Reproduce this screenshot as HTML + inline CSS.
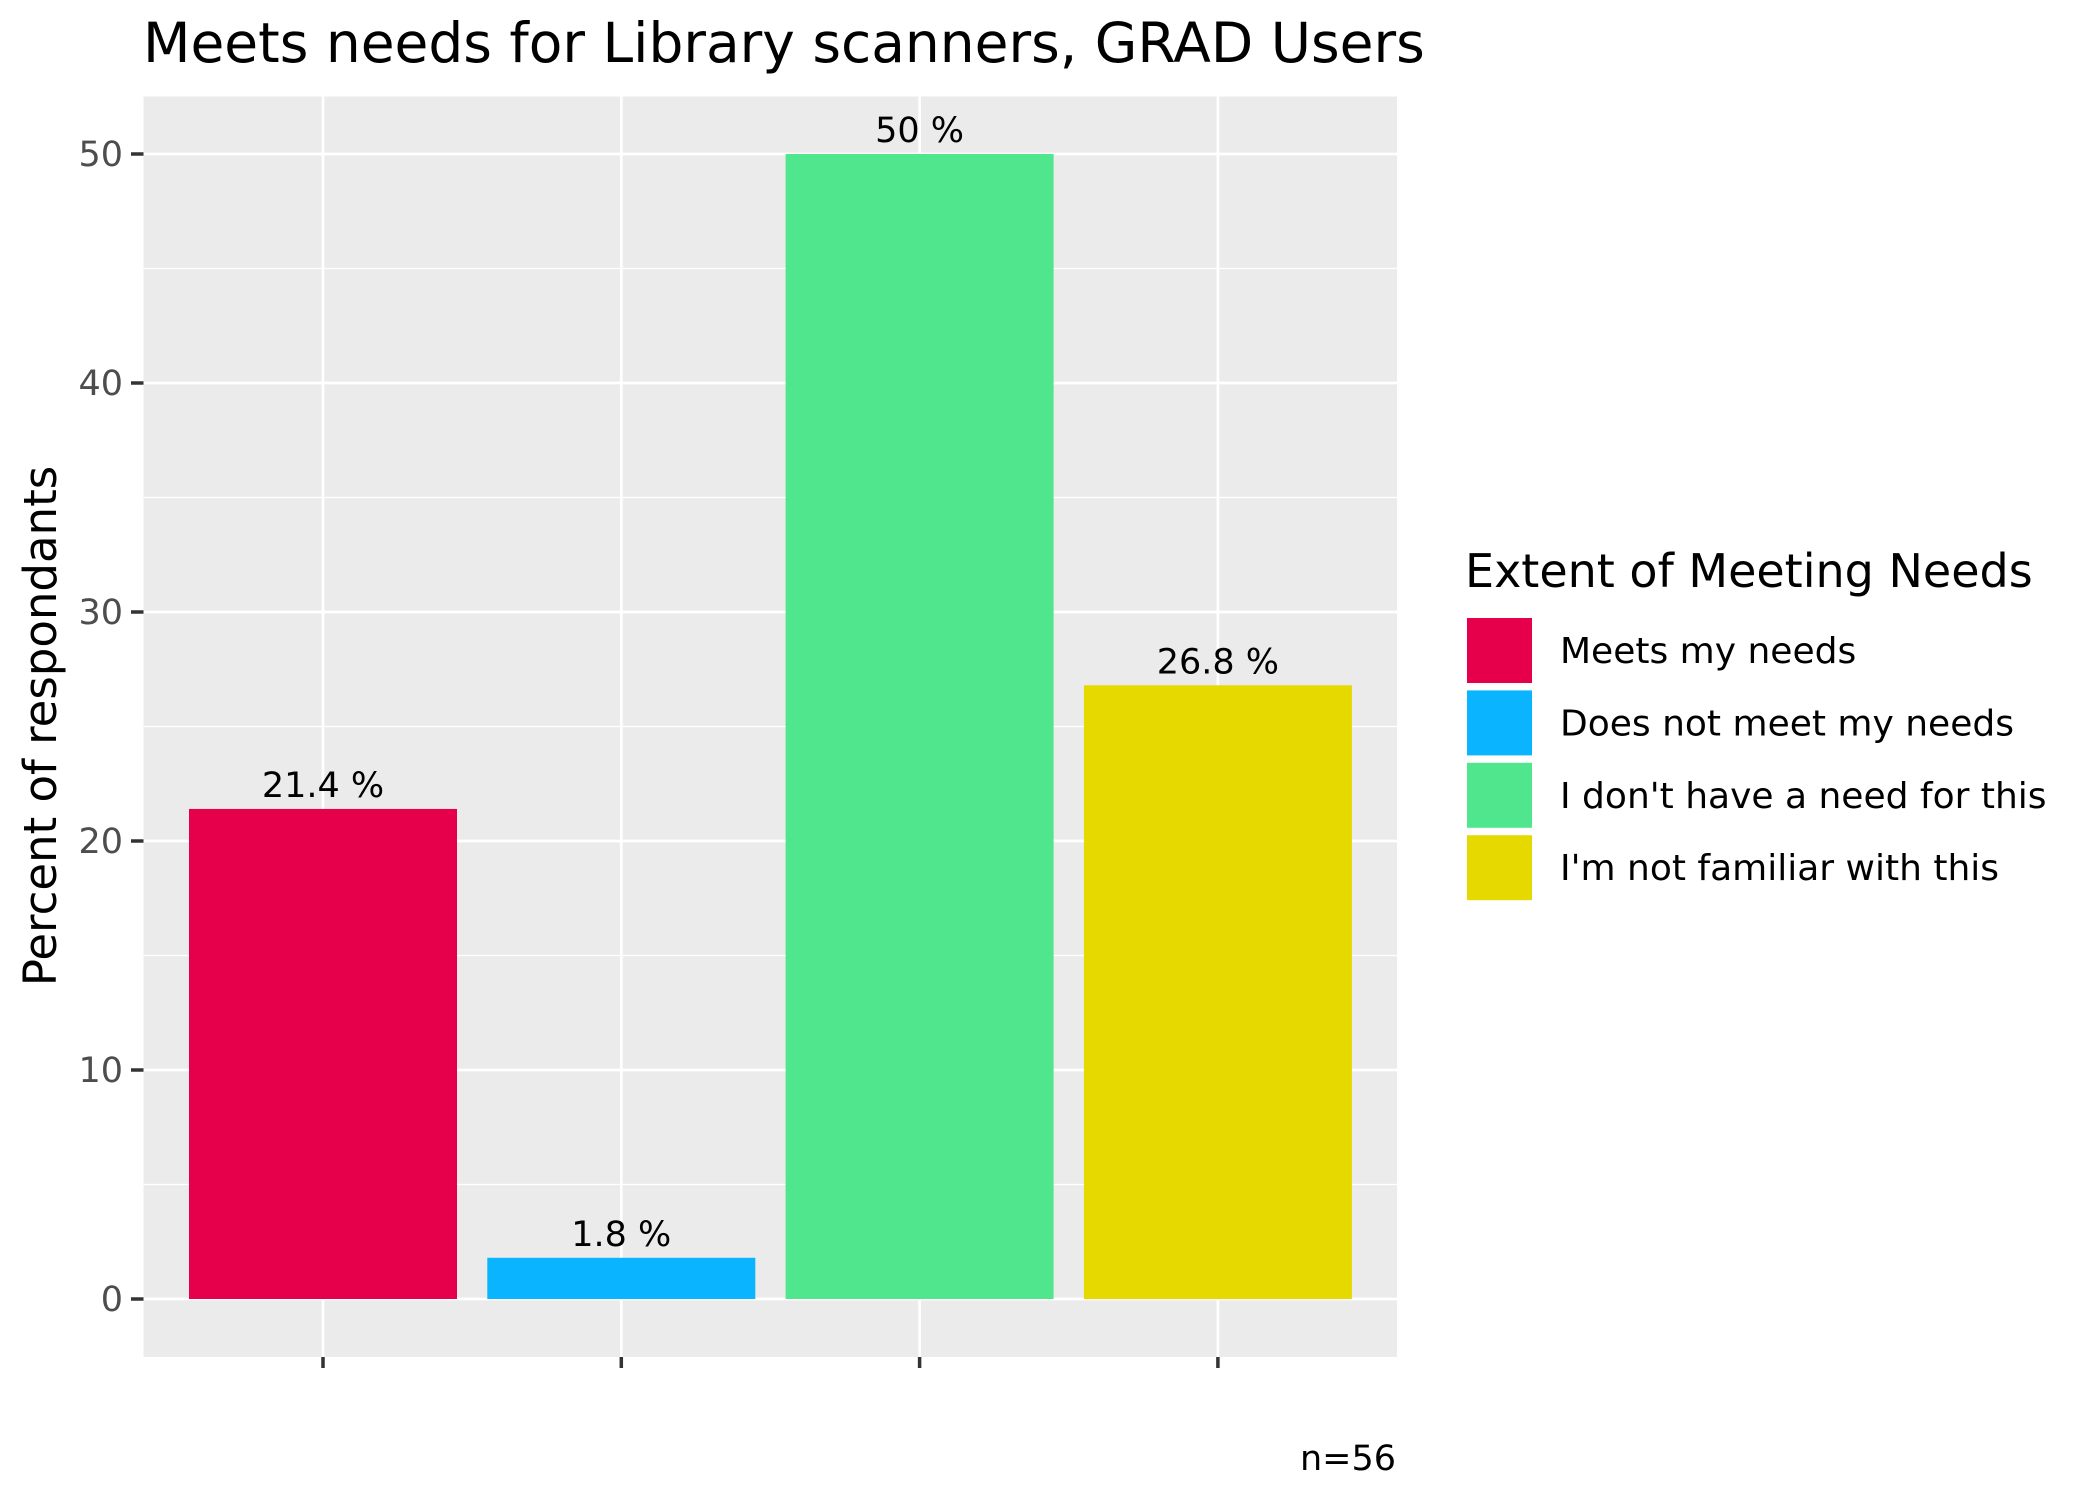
<!DOCTYPE html>
<html><head><meta charset="utf-8"><style>
body{margin:0;background:#fff}
svg{display:block;font-family:"DejaVu Sans","Liberation Sans",sans-serif}
</style></head><body>
<svg id="chart" width="2100" height="1499" viewBox="0 0 2100 1499">
<text x="143" y="62" font-size="55" fill="#000">Meets needs for Library scanners, GRAD Users</text>
<rect x="143.5" y="96.5" width="1253.5" height="1260.5" fill="#ebebeb"/>
<g id="grid"></g>
<g id="bars"></g>
<g id="axes"></g>
<text transform="translate(56,726) rotate(-90)" text-anchor="middle" font-size="45" fill="#000">Percent of respondants</text>
<text x="1465" y="587" font-size="46" fill="#000">Extent of Meeting Needs</text>
<g id="legend"></g>
<text x="1396" y="1470" text-anchor="end" font-size="35" fill="#000">n=56</text>
</svg>
<script>
const categories=["Meets my needs","Does not meet my needs","I don't have a need for this","I'm not familiar with this"];
const values=[21.4,1.8,50,26.8];
const labels=["21.4 %","1.8 %","50 %","26.8 %"];
const colors=["#e6004c","#0ab4ff","#50e68e","#e6d900"];
const yTicks=[0,10,20,30,40,50];
const ns="http://www.w3.org/2000/svg";
const y0=1299,perUnit=(1299-154)/50;
const yS=v=>y0-v*perUnit;
const xS=i=>323+i*298.3;
const bw=268;
function mk(t,a,p){const e=document.createElementNS(ns,t);for(const k in a)e.setAttribute(k,a[k]);p.appendChild(e);return e;}
const grid=document.getElementById('grid'),bars=document.getElementById('bars'),axes=document.getElementById('axes'),leg=document.getElementById('legend');
for(let v=-5;v<=55;v+=5){const y=yS(v);if(y<96.5||y>1357)continue;
 const l=mk('line',{x1:143.5,x2:1397,y1:y,y2:y,stroke:'#fff','stroke-width':v%10===0?2.7:1.3},grid);
 
 }
categories.forEach((c,i)=>{const l=mk('line',{x1:xS(i),x2:xS(i),y1:96.5,y2:1357,stroke:'#fff','stroke-width':2.7},grid);
 
 });
categories.forEach((c,i)=>{
 const r=mk('rect',{x:xS(i)-bw/2,y:yS(values[i]),width:bw,height:y0-yS(values[i]),fill:colors[i]},bars);
 
 
 const t=mk('text',{x:xS(i),y:yS(values[i])-12,'text-anchor':'middle','font-size':35,fill:'#000'},bars);t.textContent=labels[i];
 
 
 const tk=mk('line',{x1:xS(i),x2:xS(i),y1:1357,y2:1368,stroke:'#333','stroke-width':3.5},axes);
 
 
 const k=mk('rect',{x:1466,y:617+i*72.4,width:67,height:67,fill:colors[i],stroke:'#fff','stroke-width':2},leg);
 
 
 const lt=mk('text',{x:1560,y:663+i*72.4,'font-size':36,fill:'#000'},leg);lt.textContent=c;
 
 
});
yTicks.forEach(v=>{const y=yS(v);
 const tk=mk('line',{x1:131,x2:143.5,y1:y,y2:y,stroke:'#333','stroke-width':3.5},axes);
 
 
 const t=mk('text',{x:123,y:y+12,'text-anchor':'end','font-size':35,fill:'#4d4d4d'},axes);t.textContent=v;
 
 });
</script>
</body></html>
